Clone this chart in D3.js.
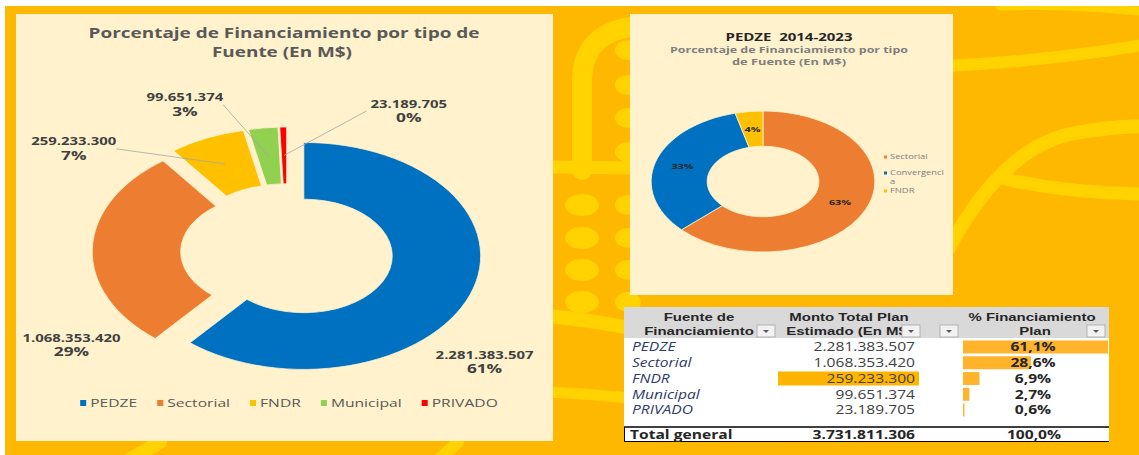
<!DOCTYPE html>
<html>
<head>
<meta charset="utf-8">
<script src="https://cdn.jsdelivr.net/npm/d3@7"></script>
<style>
body{margin:0;background:#fff;}
svg{display:block;font-family:"Open Sans",sans-serif;}
</style>
</head>
<body>
<script>
// datos del grafico grande / tabla
const fuentes = ["PEDZE","Sectorial","FNDR","Municipal","PRIVADO"];
const montos = [2281383507,1068353420,259233300,99651374,23189705];
const pctLabels = ["61%","29%","7%","3%","0%"];
const colores = ["#0070C0","#ED7D31","#FFC000","#92D050","#FF0000"];

// grafico chico PEDZE 2014-2023
const pedzeCats = ["Sectorial","Convergencia","FNDR"];
const pedzePct = [63,33,4];
const pedzeColores = ["#ED7D31","#0070C0","#FFC000"];

// posicion de etiquetas (angulo en grados, factor de radio)
const labelPolar = [[131,1.48],[236,1.47],[307,1.51],[336,1.42],[29,1.42]];

const width = 1139;
const height = 455;

const svg = d3.select("body").append("svg")
  .attr("width", width)
  .attr("height", height);

const loc = d3.formatLocale({decimal: ",", thousands: ".", grouping: [3], currency: ["$", ""]});
const fmtN = loc.format(",d");
const fmtP = v => loc.format(".1f")(v * 100) + "%";

function stext(g, x, y, str, o){
  o = o || {};
  const t = g.append("text")
    .attr("transform", `translate(${x},${y}) scale(${o.sx || 1.3},1)`)
    .attr("text-anchor", o.anchor || "middle")
    .attr("font-size", o.size || 12)
    .attr("font-weight", o.weight || "normal")
    .attr("font-style", o.style || "normal")
    .attr("fill", o.fill || "#404040")
    .text(str);
  if (o.family) t.attr("font-family", o.family);
  return t;
}

// ---- fondo ----
svg.append("rect").attr("x", 5).attr("y", 6).attr("width", width - 5).attr("height", height - 6)
  .attr("fill", "#FFB800");

const deco = svg.append("g").attr("fill", "none").attr("stroke", "#FFD200").attr("stroke-linecap", "round");
deco.append("path").attr("d", "M 945 66 Q 1040 62 1150 44").attr("stroke-width", 12);
deco.append("path").attr("d", "M 1000 6 Q 1070 4 1150 12").attr("stroke-width", 9);
deco.append("path").attr("d", "M 945 255 Q 1000 150 1070 134 Q 1110 126 1150 126").attr("stroke-width", 14);
deco.append("path").attr("d", "M 1000 178 Q 1070 194 1150 194").attr("stroke-width", 13);
deco.append("path").attr("d", "M 582 170 L 582 78 Q 584 30 640 26").attr("stroke-width", 20);
deco.append("path").attr("d", "M 548 167 L 640 168").attr("stroke-width", 13);
deco.append("path").attr("d", "M 548 316 Q 590 320 630 328").attr("stroke-width", 14);
deco.append("path").attr("d", "M 548 392 Q 590 394 630 398").attr("stroke-width", 11);
deco.append("path").attr("d", "M 126 462 L 160 442").attr("stroke-width", 14);
deco.append("path").attr("d", "M 436 462 L 458 442").attr("stroke-width", 12);
const dots = svg.append("g").attr("fill", "#FFD200");
[205, 238, 270, 302].forEach(y => dots.append("ellipse").attr("cx", 582).attr("cy", y).attr("rx", 17).attr("ry", 11));
[50, 85, 118, 152, 205, 238, 270, 302].forEach(y => dots.append("ellipse").attr("cx", 628).attr("cy", y).attr("rx", 13).attr("ry", 10));

// ---- panel izquierdo ----
svg.append("rect").attr("x", 16).attr("y", 14).attr("width", 537).attr("height", 427).attr("fill", "#FFF2CC");

svg.append("text").attr("x", 284).attr("y", 38).attr("text-anchor", "middle")
  .attr("font-size", 14.5).attr("font-weight", "bold").attr("fill", "#595959")
  .attr("textLength", 391).attr("lengthAdjust", "spacingAndGlyphs")
  .text("Porcentaje de Financiamiento por tipo de");
svg.append("text").attr("x", 282).attr("y", 57).attr("text-anchor", "middle")
  .attr("font-size", 14.5).attr("font-weight", "bold").attr("fill", "#595959")
  .attr("textLength", 140).attr("lengthAdjust", "spacingAndGlyphs")
  .text("Fuente (En M$)");

const big = {cx: 287, cy: 252, R: 113.5, sx: 1.558, explode: 11.5};
const pie = d3.pie().sort(null).value(d => d);
const bigArcs = pie(montos);
const arcBig = d3.arc().innerRadius(big.R * 0.5).outerRadius(big.R);
const midA = d => (d.startAngle + d.endAngle) / 2;
const toScreen = (a, r) => [big.cx + big.sx * r * Math.sin(a), big.cy - r * Math.cos(a)];

const gBig = svg.append("g").attr("transform", `translate(${big.cx},${big.cy}) scale(${big.sx},1)`);
gBig.selectAll(".slice")
  .data(bigArcs)
  .enter()
  .append("path")
  .attr("class", "slice")
  .attr("d", arcBig)
  .attr("transform", d => `translate(${big.explode * Math.sin(midA(d))},${-big.explode * Math.cos(midA(d))})`)
  .attr("fill", (d, i) => colores[i])
  .attr("stroke", "#FFF2CC")
  .attr("stroke-width", 0.8)
  .attr("vector-effect", "non-scaling-stroke");

const gLab = svg.append("g");
bigArcs.forEach((d, i) => {
  const p = labelPolar[i];
  const [lx, ly] = toScreen(p[0] * Math.PI / 180, p[1] * big.R);
  const t = stext(gLab, lx, ly - 3.5, fmtN(montos[i]), {size: 10, weight: "bold", fill: "#404040", sx: 1.49});
  stext(gLab, lx, ly + 11, pctLabels[i], {size: 12, weight: "bold", fill: "#404040", sx: 1.44});
  if (i >= 2){
    const [ex, ey] = toScreen(midA(d), big.R * 0.75 + big.explode);
    const halfW = t.node().getComputedTextLength() * 1.49 / 2;
    const sxp = ex > lx ? lx + halfW : lx - halfW - 4;
    gLab.append("line")
      .attr("x1", sxp).attr("y1", ly)
      .attr("x2", ex).attr("y2", ey)
      .attr("stroke", "#A6A6A6").attr("stroke-width", 0.8);
  }
});

// leyenda
const legG = svg.append("g");
let lxPos = 0;
const legItems = [];
fuentes.forEach((f, i) => {
  const m = legG.append("rect").attr("width", 6).attr("height", 6).attr("fill", colores[i]);
  const t = stext(legG, 0, 0, f, {size: 10.5, fill: "#595959", anchor: "start", sx: 1.49});
  const w = t.node().getComputedTextLength() * 1.49;
  legItems.push({m, t, x: lxPos});
  lxPos += 10 + w + 20;
});
const legW = lxPos - 20;
const legX0 = 289 - legW / 2;
legItems.forEach(it => {
  it.m.attr("x", legX0 + it.x).attr("y", 400);
  it.t.attr("transform", `translate(${legX0 + it.x + 10},${407}) scale(1.49,1)`);
});

// ---- panel derecho (PEDZE 2014-2023) ----
svg.append("rect").attr("x", 630).attr("y", 14).attr("width", 323).attr("height", 281).attr("fill", "#FFF2CC");
svg.append("text").attr("x", 789).attr("y", 41).attr("text-anchor", "middle")
  .attr("font-size", 10).attr("font-weight", "bold").attr("fill", "#262626")
  .attr("textLength", 127).attr("lengthAdjust", "spacingAndGlyphs")
  .attr("xml:space", "preserve")
  .text("PEDZE  2014-2023");
svg.append("text").attr("x", 789).attr("y", 53).attr("text-anchor", "middle")
  .attr("font-size", 8.5).attr("font-weight", "bold").attr("fill", "#7F7F7F")
  .attr("textLength", 238).attr("lengthAdjust", "spacingAndGlyphs")
  .text("Porcentaje de Financiamiento por tipo");
svg.append("text").attr("x", 789).attr("y", 65).attr("text-anchor", "middle")
  .attr("font-size", 8.5).attr("font-weight", "bold").attr("fill", "#7F7F7F")
  .attr("textLength", 114).attr("lengthAdjust", "spacingAndGlyphs")
  .text("de Fuente (En M$)");

const small = {cx: 763, cy: 181.5, R: 70.5, sx: 1.586};
const smallArcs = pie(pedzePct);
const arcSmall = d3.arc().innerRadius(small.R * 0.5).outerRadius(small.R);
const gSmall = svg.append("g").attr("transform", `translate(${small.cx},${small.cy}) scale(${small.sx},1)`);
gSmall.selectAll(".sslice")
  .data(smallArcs)
  .enter()
  .append("path")
  .attr("class", "sslice")
  .attr("d", arcSmall)
  .attr("fill", (d, i) => pedzeColores[i])
  .attr("stroke", "#FFF2CC")
  .attr("stroke-width", 0.8)
  .attr("vector-effect", "non-scaling-stroke");
smallArcs.forEach((d, i) => {
  const c = arcSmall.centroid(d);
  stext(svg, small.cx + c[0] * small.sx, small.cy + c[1] + 2.5, pedzePct[i] + "%", {size: 7, weight: "bold", fill: "#262626", sx: 1.55});
});
const sLegY = [157, 173, 191];
pedzeCats.forEach((c, i) => {
  svg.append("rect").attr("x", 884).attr("y", sLegY[i] - 1.5).attr("width", 3).attr("height", 3).attr("fill", pedzeColores[i]);
  if (c === "Convergencia"){
    stext(svg, 890, sLegY[i] + 2.2, "Convergenci", {size: 6.5, fill: "#7F7F7F", anchor: "start", sx: 1.44});
    stext(svg, 890, sLegY[i] + 11, "a", {size: 6.5, fill: "#7F7F7F", anchor: "start", sx: 1.44});
  } else {
    stext(svg, 890, sLegY[i] + 2.2, c, {size: 6.5, fill: "#7F7F7F", anchor: "start", sx: 1.44});
  }
});

// ---- tabla dinamica ----
const tab = svg.append("g");
tab.append("rect").attr("x", 624).attr("y", 307).attr("width", 485).attr("height", 135).attr("fill", "#FFFFFF");
tab.append("rect").attr("x", 624).attr("y", 307).attr("width", 485).attr("height", 31).attr("fill", "#D9D9D9");

svg.append("defs").html(
  '<clipPath id="c1"><rect x="620" y="300" width="137" height="40"/></clipPath>' +
  '<clipPath id="c2"><rect x="770" y="300" width="132" height="40"/></clipPath>');

const hdr = {size: 11, weight: "bold", fill: "#262626", sx: 1.36, family: "'Liberation Sans', Arial, sans-serif"};
stext(tab, 699, 320.5, "Fuente de", hdr);
stext(tab.append("g").attr("clip-path", "url(#c1)"), 699, 334.5, "Financiamiento", hdr);
stext(tab, 849, 320.5, "Monto Total Plan", hdr);
stext(tab.append("g").attr("clip-path", "url(#c2)"), 849, 334.5, "Estimado (En M$)", hdr);
stext(tab, 1032, 320.5, "% Financiamiento", hdr);
stext(tab, 1035, 334.5, "Plan", hdr);

[757, 902, 940, 1087].forEach(bx => {
  tab.append("rect").attr("x", bx).attr("y", 325).attr("width", 18).attr("height", 12)
    .attr("fill", "#F2F2F2").attr("stroke", "#A6A6A6").attr("stroke-width", 0.8);
  tab.append("path").attr("d", `M ${bx + 6} ${330} L ${bx + 12} ${330} L ${bx + 9} ${333} Z`).attr("fill", "#595959");
});

const total = d3.sum(montos);
const rowY = d3.scalePoint().domain(fuentes).range([347, 410]);
const barX = d3.scaleLinear().domain([0, d3.max(montos) / total]).range([0, 145]);

// formato condicional FNDR
tab.append("rect").attr("x", 778).attr("y", rowY("FNDR") - 7).attr("width", 141).attr("height", 14).attr("fill", "#FFB400");

fuentes.forEach((f, i) => {
  const y = rowY(f);
  const share = montos[i] / total;
  tab.append("rect").attr("x", 963).attr("y", y - 6.5).attr("width", barX(share)).attr("height", 13).attr("fill", "#FFB42C");
  stext(tab, 632, y + 4.3, f, {size: 12, style: "italic", fill: "#2E3A6B", anchor: "start", sx: 1.3});
  stext(tab, 915, y + 4.3, fmtN(montos[i]), {size: 12, fill: "#404040", anchor: "end", sx: 1.3});
  stext(tab, 1033, y + 4.3, fmtP(share), {size: 12, weight: "bold", fill: "#262626", sx: 1.3});
});

tab.append("line").attr("x1", 624).attr("x2", 1109).attr("y1", 427).attr("y2", 427).attr("stroke", "#000").attr("stroke-width", 1.5);
tab.append("line").attr("x1", 624).attr("x2", 1109).attr("y1", 441.5).attr("y2", 441.5).attr("stroke", "#000").attr("stroke-width", 1.2);
tab.append("line").attr("x1", 624.5).attr("x2", 624.5).attr("y1", 427).attr("y2", 442).attr("stroke", "#000").attr("stroke-width", 1);
stext(tab, 630, 439, "Total general", {size: 12, weight: "bold", fill: "#262626", anchor: "start", sx: 1.3});
stext(tab, 915, 439, fmtN(total), {size: 12, weight: "bold", fill: "#262626", anchor: "end", sx: 1.3});
stext(tab, 1034, 439, fmtP(1), {size: 12, weight: "bold", fill: "#262626", sx: 1.3});

// franja blanca superior / izquierda
svg.append("rect").attr("x", 0).attr("y", 0).attr("width", width).attr("height", 6).attr("fill", "#fff");
svg.append("rect").attr("x", 0).attr("y", 0).attr("width", 5).attr("height", height).attr("fill", "#fff");
</script>
</body>
</html>
